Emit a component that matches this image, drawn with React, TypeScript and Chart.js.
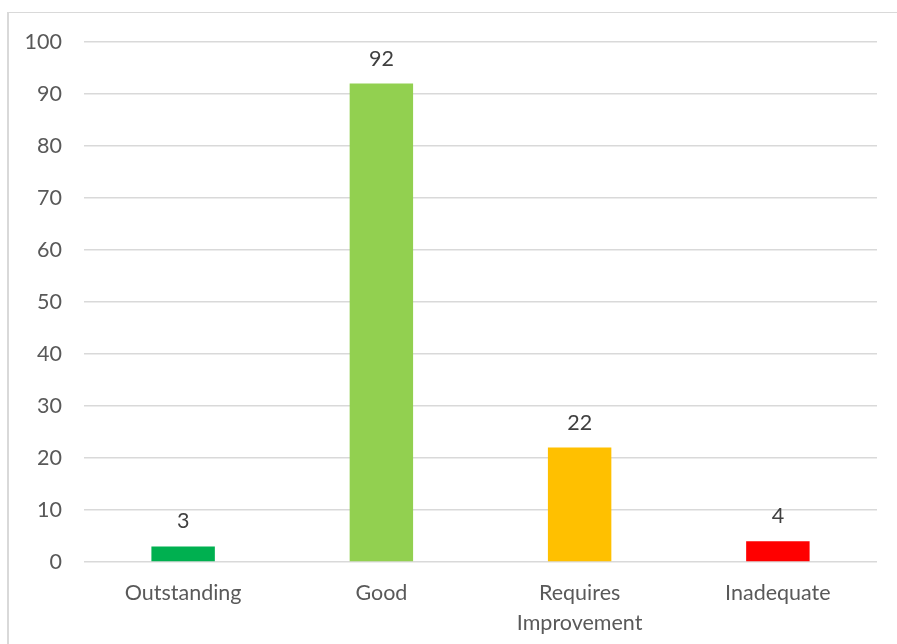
import React, { useEffect, useRef } from "react";
import { Chart, registerables } from "chart.js";

Chart.register(...registerables);

const categories: (string | string[])[] = ["Outstanding", "Good", ["Requires", "Improvement"], "Inadequate"];
const values: number[] = [3, 92, 22, 4];
const barColors: string[] = ["#00B050", "#92D050", "#FFC000", "#FF0000"];
const yTicks: number[] = [0, 10, 20, 30, 40, 50, 60, 70, 80, 90, 100];

const FONT = "Lato, 'Liberation Sans', sans-serif";

const valueLabels = {
  id: "valueLabels",
  afterDatasetsDraw(chart: any) {
    const { ctx } = chart;
    const meta = chart.getDatasetMeta(0);
    ctx.save();
    ctx.font = `21.5px ${FONT}`;
    ctx.fillStyle = "#404040";
    ctx.textAlign = "center";
    ctx.textBaseline = "middle";
    meta.data.forEach((bar: any, i: number) => {
      ctx.fillText(String(values[i]), bar.x, bar.y - 25);
    });
    ctx.restore();
  },
};

export default function App() {
  const ref = useRef<HTMLCanvasElement | null>(null);
  useEffect(() => {
    if (!ref.current) return;
    const chart = new Chart(ref.current, {
      type: "bar",
      data: {
        labels: categories,
        datasets: [
          {
            data: values,
            backgroundColor: barColors,
            barPercentage: 0.64,
            categoryPercentage: 0.5,
          },
        ],
      },
      options: {
        animation: false,
        responsive: false,
        maintainAspectRatio: false,
        layout: { padding: { left: 12, right: 20, top: 42, bottom: 0 } },
        plugins: { legend: { display: false }, tooltip: { enabled: false } },
        scales: {
          x: {
            grid: { display: false, drawTicks: false },
            border: { display: false },
            ticks: {
              color: "#595959",
              font: { family: FONT, size: 21.5, lineHeight: 1.4 },
              padding: 16,
              maxRotation: 0,
              autoSkip: false,
            },
            afterFit(scale: any) {
              scale.height = 82;
            },
          },
          y: {
            min: 0,
            max: 100,
            afterBuildTicks(scale: any) {
              scale.ticks = yTicks.map((v) => ({ value: v }));
            },
            grid: { color: "#D9D9D9", lineWidth: 1.5, drawTicks: false },
            border: { display: false },
            ticks: {
              color: "#595959",
              font: { family: FONT, size: 21.5 },
              padding: 22,
            },
            afterFit(scale: any) {
              scale.width = 72;
            },
          },
        },
      },
      plugins: [valueLabels],
    });
    return () => chart.destroy();
  }, []);

  return (
    <div style={{ position: "absolute", left: 0, top: 0, width: 897, height: 644, background: "#fff" }}>
      <div
        style={{
          position: "absolute",
          left: 7,
          top: 12,
          width: 890,
          height: 632,
          borderTop: "1.5px solid #D9D9D9",
          borderLeft: "2px solid #D9D9D9",
          boxSizing: "border-box",
        }}
      />
      <canvas ref={ref} width={897} height={644} style={{ position: "absolute", left: 0, top: 0, width: 897, height: 644 }} />
    </div>
  );
}
